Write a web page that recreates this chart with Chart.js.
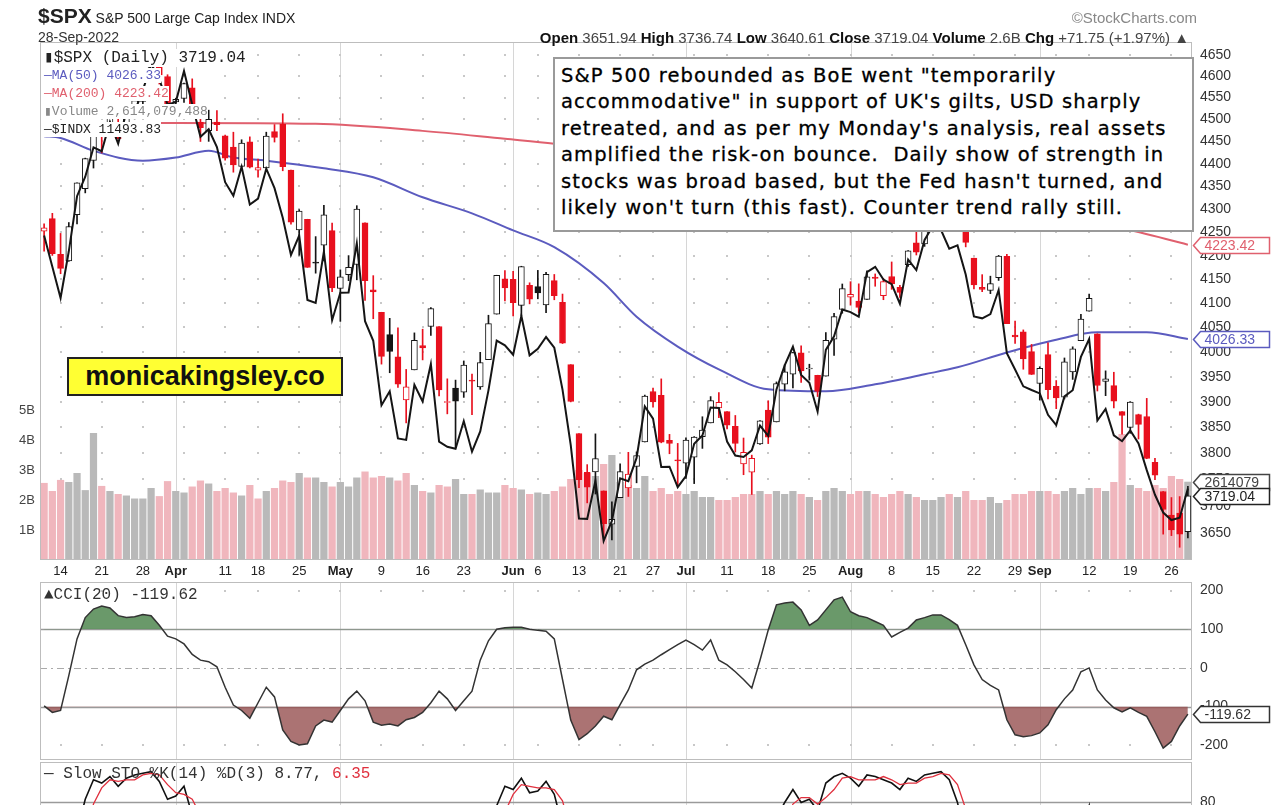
<!DOCTYPE html>
<html>
<head>
<meta charset="utf-8">
<script src="https://cdn.jsdelivr.net/npm/chart.js@4.4.1/dist/chart.umd.min.js"></script>
<style>
  body { margin: 0; width: 1280px; height: 805px; overflow: hidden; background: #fff; position: relative;
         font-family: "Liberation Sans", Arial, sans-serif; color: #222; }
  canvas { position: absolute; left: 0; }
  .abs { position: absolute; white-space: nowrap; }
  .mono { font-family: "Liberation Mono", "DejaVu Sans Mono", monospace; }
  .leg span { background: #fff; }
  #note { left: 553px; top: 57px; width: 627px; height: 163px; border: 2px solid #9a9a9a; background: #fff;
          padding: 4px 4px 4px 6px; font-family: "DejaVu Sans", sans-serif; font-size: 19.5px; letter-spacing: 1.1px;
          line-height: 26.4px; color: #000; -webkit-text-stroke: 0.3px #000; }
  #site { left: 67px; top: 357px; width: 272px; height: 35px; border: 2px solid #222; background: #ffff33;
          font-weight: bold; font-size: 27px; line-height: 35px; text-align: center; color: #111; }
</style>
</head>
<body>
<canvas id="priceChart" width="1280" height="582" style="top:0"></canvas>
<canvas id="cciChart" width="1280" height="178" style="top:582px"></canvas>
<canvas id="stoChart" width="1280" height="178" style="top:762px"></canvas>

<div class="abs" style="left:38px;top:4px;font-size:14px"><b style="font-size:21px">$SPX</b> S&amp;P 500 Large Cap Index INDX</div>
<div class="abs" style="left:38px;top:29px;font-size:14px;color:#333">28-Sep-2022</div>
<div class="abs" style="right:91px;top:29px;font-size:15px;color:#444">
  <b style="color:#111">Open</b> 3651.94 <b style="color:#111">High</b> 3736.74 <b style="color:#111">Low</b> 3640.61
  <b style="color:#111">Close</b> 3719.04 <b style="color:#111">Volume</b> 2.6B <b style="color:#111">Chg</b> +71.75 (+1.97%) &#9650;</div>
<div class="abs" style="right:83px;top:9px;font-size:15px;color:#888">&copy;StockCharts.com</div>

<div class="abs mono leg" style="left:44px;top:49px;line-height:18px">
  <div style="font-size:16px;color:#222"><span>&#9646;$SPX (Daily) 3719.04</span></div>
  <div style="font-size:13px;color:#5b5bbf"><span>&mdash;MA(50) 4026.33</span></div>
  <div style="font-size:13px;color:#e0606e"><span>&mdash;MA(200) 4223.42</span></div>
  <div style="font-size:13px;color:#888"><span>&#9646;Volume 2,614,079,488</span></div>
  <div style="font-size:13px;color:#222"><span>&mdash;$INDX 11493.83</span></div>
</div>

<div id="note" class="abs">S&amp;P 500 rebounded as BoE went "temporarily<br>accommodative" in support of UK's gilts, USD sharply<br>retreated, and as per my Monday's analysis, real assets<br>amplified the risk-on bounce.&nbsp; Daily show of strength in<br>stocks was broad based, but the Fed hasn't turned, and<br>likely won't turn (this fast). Counter trend rally still.</div>
<div id="site" class="abs">monicakingsley.co</div>

<div class="abs mono" style="left:44px;top:586px;font-size:16px;color:#333">&#9650;CCI(20) -119.62</div>
<div class="abs mono" style="left:44px;top:765px;font-size:16px;color:#333">&mdash; Slow STO %K(14) %D(3) 8.77, <span style="color:#e0303e">6.35</span></div>

<script>
// trading days shown on the chart
const dates = [
  '2022-03-10','2022-03-11','2022-03-14','2022-03-15','2022-03-16','2022-03-17','2022-03-18','2022-03-21','2022-03-22','2022-03-23','2022-03-24','2022-03-25','2022-03-28','2022-03-29','2022-03-30','2022-03-31',
  '2022-04-01','2022-04-04','2022-04-05','2022-04-06','2022-04-07','2022-04-08','2022-04-11','2022-04-12','2022-04-13','2022-04-14','2022-04-18','2022-04-19','2022-04-20','2022-04-21','2022-04-22','2022-04-25','2022-04-26','2022-04-27','2022-04-28','2022-04-29',
  '2022-05-02','2022-05-03','2022-05-04','2022-05-05','2022-05-06','2022-05-09','2022-05-10','2022-05-11','2022-05-12','2022-05-13','2022-05-16','2022-05-17','2022-05-18','2022-05-19','2022-05-20','2022-05-23','2022-05-24','2022-05-25','2022-05-26','2022-05-27','2022-05-31',
  '2022-06-01','2022-06-02','2022-06-03','2022-06-06','2022-06-07','2022-06-08','2022-06-09','2022-06-10','2022-06-13','2022-06-14','2022-06-15','2022-06-16','2022-06-17','2022-06-21','2022-06-22','2022-06-23','2022-06-24','2022-06-27','2022-06-28','2022-06-29','2022-06-30',
  '2022-07-01','2022-07-05','2022-07-06','2022-07-07','2022-07-08','2022-07-11','2022-07-12','2022-07-13','2022-07-14','2022-07-15','2022-07-18','2022-07-19','2022-07-20','2022-07-21','2022-07-22','2022-07-25','2022-07-26','2022-07-27','2022-07-28','2022-07-29',
  '2022-08-01','2022-08-02','2022-08-03','2022-08-04','2022-08-05','2022-08-08','2022-08-09','2022-08-10','2022-08-11','2022-08-12','2022-08-15','2022-08-16','2022-08-17','2022-08-18','2022-08-19','2022-08-22','2022-08-23','2022-08-24','2022-08-25','2022-08-26','2022-08-29','2022-08-30','2022-08-31',
  '2022-09-01','2022-09-02','2022-09-06','2022-09-07','2022-09-08','2022-09-09','2022-09-12','2022-09-13','2022-09-14','2022-09-15','2022-09-16','2022-09-19','2022-09-20','2022-09-21','2022-09-22','2022-09-23','2022-09-26','2022-09-27','2022-09-28'
];

const tickDates = ['2022-03-14','2022-03-21','2022-03-28','2022-04-01','2022-04-11','2022-04-18','2022-04-25','2022-05-02','2022-05-09','2022-05-16','2022-05-23',
  '2022-06-01','2022-06-06','2022-06-13','2022-06-21','2022-06-27','2022-07-01','2022-07-11','2022-07-18','2022-07-25','2022-08-01','2022-08-08','2022-08-15',
  '2022-08-22','2022-08-29','2022-09-01','2022-09-12','2022-09-19','2022-09-26'];
const tickTexts = ['14','21','28','Apr','11','18','25','May','9','16','23','Jun','6','13','21','27','Jul','11','18','25','Aug','8','15','22','29','Sep','12','19','26'];

const priceTicks = [3650,3700,3750,3800,3850,3900,3950,4000,4050,4100,4150,4200,4250,4300,4350,4400,4450,4500,4550,4600,4650];
const volumeTicks = [1,2,3,4,5];
const cciTicks = [200,100,0,-100,-200];

const priorClose = 4277.88;

const opens = [
  4252.55,4279.50,4202.75,4188.82,4288.14,4345.11,4407.34,4462.40,4469.10,4493.10,4469.98,4522.91,4541.09,4602.86,4624.20,4599.02,
  4540.32,4547.97,4572.45,4494.17,4474.65,4494.15,4462.64,4437.59,4394.30,4449.12,4385.63,4390.63,4472.26,4489.17,4385.83,4255.34,4278.14,4186.52,4222.58,4253.75,
  4130.61,4159.78,4181.18,4270.43,4128.17,4081.27,4035.18,3990.08,3903.95,3963.90,4013.02,4052.00,4051.98,3899.00,3927.76,3919.42,3942.94,3929.59,3984.60,4077.43,4151.09,
  4149.78,4095.41,4137.57,4134.72,4096.47,4147.12,4101.65,3974.39,3838.15,3763.52,3764.05,3728.18,3665.90,3715.31,3733.89,3774.71,3821.75,3920.76,3913.00,3825.09,3785.99,
  3781.00,3792.61,3831.98,3858.85,3888.26,3880.94,3851.95,3779.67,3763.99,3818.00,3883.79,3860.73,3935.32,3955.47,3998.43,3965.72,3953.22,3951.43,4026.13,4087.33,
  4112.38,4104.21,4107.96,4154.85,4115.87,4155.93,4133.11,4181.02,4227.40,4225.02,4269.37,4290.46,4280.40,4273.13,4266.31,4195.08,4133.09,4126.55,4153.26,4198.74,4034.58,4041.25,4000.67,
  3936.73,3994.66,3930.89,3909.43,3959.94,4022.94,4083.67,4037.12,3940.73,3932.41,3880.95,3849.91,3875.23,3871.40,3782.36,3727.14,3682.72,3686.44,3651.94
];
const highs = [
  4268.28,4291.01,4247.57,4271.05,4357.86,4412.67,4465.40,4481.75,4522.00,4501.07,4520.58,4546.03,4575.65,4637.30,4627.77,4603.07,
  4548.70,4583.50,4593.45,4503.94,4521.16,4520.41,4464.35,4471.00,4453.92,4460.46,4410.31,4471.03,4488.29,4512.94,4385.83,4299.02,4278.14,4240.71,4308.45,4269.68,
  4169.81,4200.10,4307.66,4270.43,4157.69,4081.27,4068.82,4049.09,3964.80,4038.88,4046.46,4090.72,4051.98,3945.96,3943.42,3981.88,3955.68,3999.33,4075.14,4158.49,4168.34,
  4166.54,4177.51,4142.67,4168.78,4164.86,4160.14,4119.10,3974.39,3838.15,3778.18,3837.48,3728.18,3707.71,3779.65,3801.79,3802.58,3913.65,3927.72,3945.86,3836.50,3818.99,
  3829.82,3832.19,3870.91,3910.63,3918.50,3880.94,3873.41,3829.44,3796.41,3863.62,3902.44,3939.81,3974.13,3999.29,4012.44,3975.30,3953.22,4039.56,4078.95,4140.15,
  4144.95,4140.47,4167.66,4161.29,4151.58,4186.62,4137.30,4211.03,4257.91,4280.47,4301.79,4325.28,4302.18,4292.53,4266.31,4195.08,4159.77,4156.56,4200.54,4203.04,4062.99,4044.98,4015.37,
  3970.23,4018.43,3942.55,3987.89,4010.50,4076.81,4119.28,4037.12,3961.94,3959.14,3880.95,3900.45,3876.01,3907.07,3790.17,3727.14,3715.67,3717.53,3736.74
];
const lows = [
  4209.80,4200.49,4161.72,4187.90,4267.89,4335.65,4390.57,4424.30,4469.10,4455.81,4465.17,4501.07,4517.69,4589.66,4581.32,4530.41,
  4507.57,4539.21,4514.17,4450.04,4450.30,4474.60,4408.38,4381.34,4392.70,4390.77,4370.30,4390.63,4448.76,4384.47,4267.62,4200.82,4175.04,4162.90,4188.63,4124.28,
  4062.51,4147.08,4148.91,4106.01,4067.91,3975.48,3958.17,3928.82,3858.87,3963.90,3983.99,4033.93,3911.91,3876.58,3810.32,3909.04,3875.13,3925.03,3984.60,4077.43,4104.88,
  4073.85,4074.37,4098.67,4109.18,4080.19,4107.20,4017.17,3900.16,3734.30,3705.68,3722.30,3639.77,3636.87,3715.31,3717.69,3743.52,3821.75,3889.66,3820.14,3799.02,3738.67,
  3752.10,3742.06,3809.37,3858.85,3869.34,3847.22,3802.36,3758.89,3721.56,3817.18,3818.63,3860.73,3922.03,3927.64,3938.85,3943.46,3910.74,3951.43,3992.97,4079.22,
  4096.02,4079.81,4107.96,4135.42,4107.31,4128.97,4112.09,4177.26,4201.41,4219.78,4256.90,4277.77,4253.08,4261.98,4218.70,4129.86,4124.03,4119.97,4147.59,4057.66,4017.42,3965.21,3954.53,
  3903.65,3906.21,3886.75,3906.03,3944.81,4022.94,4083.67,3921.73,3912.49,3888.28,3837.08,3838.50,3827.54,3789.49,3749.45,3647.47,3644.76,3623.29,3640.61
];
const closes = [
  4259.52,4204.31,4173.11,4262.45,4357.86,4411.67,4463.12,4461.18,4511.61,4456.24,4520.16,4543.06,4575.52,4631.60,4602.45,4530.41,
  4545.86,4582.64,4525.12,4481.15,4500.21,4488.28,4412.53,4397.45,4446.59,4392.59,4391.69,4462.21,4459.45,4393.66,4271.78,4296.12,4175.20,4183.96,4287.50,4131.93,
  4155.38,4175.48,4300.17,4146.87,4123.34,3991.24,4001.05,3935.18,3930.08,4023.89,4008.01,4088.85,3923.68,3900.79,3901.36,3973.75,3941.48,3978.73,4057.84,4158.24,4132.15,
  4101.23,4176.82,4108.54,4121.43,4160.68,4115.77,4017.82,3900.86,3749.63,3735.48,3789.99,3666.77,3674.84,3764.79,3759.89,3795.73,3911.74,3900.11,3821.55,3818.83,3785.38,
  3825.33,3831.39,3845.08,3902.62,3899.38,3854.43,3818.80,3801.78,3790.38,3863.16,3830.85,3936.69,3959.90,3998.95,3961.63,3966.84,3921.05,4023.61,4072.43,4130.29,
  4118.63,4091.19,4155.17,4151.94,4145.19,4140.06,4122.47,4210.24,4207.27,4280.15,4297.14,4305.20,4274.04,4283.74,4228.48,4137.99,4128.73,4140.77,4199.12,4057.66,4030.61,3986.16,3955.00,
  3966.85,3924.26,3908.19,3979.87,4006.18,4067.36,4110.41,3932.69,3946.01,3901.35,3873.33,3899.89,3855.93,3789.93,3757.99,3693.23,3655.04,3647.29,3719.04
];

// volume in billions
const volumes = [
  2.57,2.30,2.67,2.60,2.90,2.33,4.23,2.47,2.30,2.20,2.15,2.05,2.05,2.40,2.13,2.63,
  2.30,2.25,2.45,2.65,2.55,2.30,2.40,2.25,2.15,2.50,2.05,2.30,2.40,2.65,2.60,2.90,2.75,2.75,2.60,2.45,
  2.60,2.45,2.75,2.95,2.75,2.80,2.75,2.65,2.90,2.50,2.30,2.25,2.50,2.45,2.70,2.20,2.20,2.35,2.25,2.25,2.50,
  2.40,2.35,2.20,2.25,2.20,2.30,2.45,2.70,3.00,2.90,2.80,3.20,3.50,2.60,2.50,2.40,2.80,2.30,2.40,2.20,2.30,
  2.20,2.30,2.10,2.10,2.00,2.00,2.10,2.20,2.20,2.30,2.20,2.30,2.20,2.30,2.20,2.10,2.00,2.30,2.40,2.30,
  2.20,2.30,2.30,2.20,2.10,2.20,2.30,2.20,2.10,2.00,2.00,2.10,2.20,2.10,2.30,2.00,2.00,2.10,1.90,2.00,2.20,2.20,2.30,
  2.30,2.30,2.20,2.30,2.40,2.20,2.40,2.40,2.30,2.60,4.20,2.50,2.40,2.30,2.50,2.40,2.80,2.70,2.61
];

// $INDX overlay closes
const indx = [
  13600,13320,13046,13458,13960,14143,14421,14384,14667,14457,14767,14768,14979,15241,15092,14838,
  14862,15172,14838,14523,14596,14424,14091,13964,14236,13882,13938,14218,14035,13762,13426,13600,13029,13003,13455,12855,
  13093,13094,13529,12847,12680,12149,12262,11883,11871,12314,12179,12486,11857,11817,11801,12021,11779,11938,12269,12682,12642,
  12563,12893,12558,12612,12712,12622,12275,11831,11267,11264,11553,11100,11248,11572,11550,11730,12139,12040,11660,11662,11504,
  11589,11841,11906,12130,12126,11858,11748,11737,11789,11985,11903,12276,12474,12630,12396,12331,12096,12604,12718,12947,
  12925,12886,13273,13320,13207,13167,12997,13384,13291,13560,13686,13649,13482,13511,13251,12887,12871,12908,13116,12577,12441,12302,12272,
  12244,12071,11989,12220,12270,12545,12695,12025,12118,11908,11861,11946,11843,11635,11446,11311,11255,11272,11493.83
];

// moving averages at a few dates
const ma50Dates = ['2022-03-10','2022-03-14','2022-03-18','2022-03-28','2022-04-01','2022-04-07','2022-04-12','2022-04-19','2022-04-28','2022-05-06',
  '2022-05-16','2022-05-24','2022-06-01','2022-06-08','2022-06-16','2022-06-23','2022-06-30','2022-07-08','2022-07-18','2022-07-27','2022-08-04',
  '2022-08-12','2022-08-18','2022-08-26','2022-09-06','2022-09-13','2022-09-21','2022-09-28'];
const ma50Values = [4462,4458,4429,4407,4414,4429,4414,4407,4390,4370,4326,4291,4254,4218,4142,4072,4011,3965,3925,3921,3935,3955,3969,3999,4025,4040,4040,4026.33];
const ma200Dates = ['2022-03-10','2022-04-01','2022-04-27','2022-05-16','2022-05-31','2022-06-08','2022-07-06','2022-08-03','2022-08-29','2022-09-16','2022-09-28'];
const ma200Values = [4492,4492,4490,4474,4456,4445,4405,4345,4290,4258,4223.42];

const cci = [
  -98,-115,-110,-20,75,130,152,160,155,135,130,132,138,135,110,82,
  75,62,35,20,16,3,-50,-96,-110,-130,-90,-50,-75,-160,-190,-199,-196,-150,-135,-140,
  -110,-80,-60,-85,-140,-148,-145,-150,-134,-128,-115,-90,-60,-80,-110,-85,-60,20,70,100,104,
  105,105,100,97,95,75,-30,-135,-185,-170,-150,-125,-134,-95,-57,-5,10,20,34,47,60,
  72,60,46,72,20,8,-10,-30,-52,20,98,163,168,170,150,110,124,150,176,183,
  145,135,130,120,110,80,92,103,124,130,137,137,125,110,60,8,-30,-45,-57,-134,-173,-178,-175,
  -168,-147,-108,-80,-57,-10,0,-57,-83,-103,-114,-103,-115,-125,-165,-207,-190,-150,-119.62
];

const stoK = [
  35,20,8,30,62,82,94,92,96,90,95,97,98,99,93,82,
  84,90,72,55,62,55,35,30,28,25,45,44,30,15,22,10,12,30,10,8,
  15,20,40,12,8,5,10,6,10,25,30,45,15,10,10,25,18,30,55,78,90,
  88,95,86,87,93,85,65,35,8,4,6,3,5,15,18,20,35,40,30,28,22,
  30,35,45,60,62,50,40,35,30,50,45,70,80,88,80,82,75,92,96,98,
  95,90,97,96,94,92,88,95,93,97,98,99,94,80,55,35,30,33,45,15,8,5,4,
  10,6,4,25,40,62,78,25,30,18,15,25,22,10,6,3,8,5,8.77
];
const stoD = [
  40,30,21,19,33,58,79,89,94,93,94,94,97,98,97,91,
  86,85,82,72,63,57,51,40,31,28,33,38,40,30,22,16,15,17,17,16,
  11,14,25,24,20,8,8,7,9,14,22,33,30,23,12,15,18,24,34,54,74,
  85,91,90,89,89,88,81,62,36,16,6,4,5,8,13,18,24,32,35,33,27,
  27,29,37,47,56,57,51,42,35,38,42,55,65,79,83,83,79,83,88,95,
  96,94,94,94,96,94,91,92,92,95,96,98,97,91,76,57,40,33,36,31,23,9,6,
  6,7,7,13,23,42,60,55,44,24,21,19,21,19,13,6,6,5,6.35
];

// ---- derived helpers for styling / layout ----
const RED = '#e8101e';
const BLACK = '#151515';
const dayOf = d => new Date(d + 'T00:00:00Z').getUTCDay();
const weekStarts = dates.map((d, i) => i > 0 && dayOf(d) < dayOf(dates[i - 1]) ? i : -1).filter(i => i >= 0);
const monthStarts = dates.map((d, i) => i > 0 && d.slice(5, 7) !== dates[i - 1].slice(5, 7) ? i : -1).filter(i => i >= 0);
const tickIndex = tickDates.map(d => dates.indexOf(d));

const candleColors = closes.map((c, i) => c < (i ? closes[i - 1] : priorClose) ? RED : BLACK);
const bodyFills = closes.map((c, i) => c < opens[i] ? candleColors[i] : '#ffffff');
const volColors = candleColors.map(c => c === RED ? '#f0b6bd' : '#b9b9b9');

// fixed axis width, and no extra padding for the end labels
const fixWidth = w => s => { s.width = w; s.paddingTop = 0; s.paddingBottom = 0; };

const panelGrid = {
  id: 'panelGrid',
  beforeDatasetsDraw(chart, args, opts) {
    const { ctx, chartArea: a, scales } = chart;
    const xs = scales.x;
    ctx.save();
    ctx.strokeStyle = '#d6d6d6';
    ctx.lineWidth = 1;
    monthStarts.forEach(i => {
      const px = Math.round(xs.getPixelForValue(i)) + 0.5;
      ctx.beginPath(); ctx.moveTo(px, a.top); ctx.lineTo(px, a.bottom); ctx.stroke();
    });
    const ys = scales[opts.axis];
    ctx.fillStyle = '#c8c8c8';
    (opts.dots || []).forEach(v => {
      const py = Math.round(ys.getPixelForValue(v));
      weekStarts.forEach(i => {
        const px = Math.round(xs.getPixelForValue(i));
        ctx.fillRect(px - 1, py - 1, 2, 2);
      });
    });
    (opts.refs || []).forEach(r => {
      const py = Math.round(ys.getPixelForValue(r.value)) + 0.5;
      ctx.strokeStyle = r.color;
      ctx.lineWidth = r.width || 1;
      ctx.setLineDash(r.dash || []);
      ctx.beginPath(); ctx.moveTo(a.left, py); ctx.lineTo(a.right, py); ctx.stroke();
    });
    ctx.restore();
  },
  afterDraw(chart) {
    const { ctx, chartArea: a } = chart;
    ctx.save();
    ctx.strokeStyle = '#bdbdbd';
    ctx.lineWidth = 1;
    ctx.strokeRect(a.left + 0.5, a.top + 0.5, a.right - a.left - 1, a.bottom - a.top - 1);
    ctx.restore();
  }
};

const valueTags = {
  id: 'valueTags',
  afterDraw(chart, args, opts) {
    const { ctx, chartArea: a } = chart;
    (opts.tags || []).forEach(t => {
      const y = Math.round(chart.scales[t.axis].getPixelForValue(t.value)) + 0.5;
      const x = a.right + 1.5;
      ctx.save();
      ctx.beginPath();
      ctx.moveTo(x, y);
      ctx.lineTo(x + 7, y - 8);
      ctx.lineTo(x + 76, y - 8);
      ctx.lineTo(x + 76, y + 8);
      ctx.lineTo(x + 7, y + 8);
      ctx.closePath();
      ctx.fillStyle = '#fff';
      ctx.fill();
      ctx.lineWidth = 1.5;
      ctx.strokeStyle = t.color;
      ctx.stroke();
      ctx.fillStyle = t.color;
      ctx.font = '14px "Liberation Sans"';
      ctx.textBaseline = 'middle';
      ctx.fillText(t.text, x + 11, y + 1);
      ctx.restore();
    });
  }
};

Chart.register(panelGrid, valueTags);
Chart.defaults.font.family = '"Liberation Sans", Arial, sans-serif';
Chart.defaults.color = '#333';

const common = {
  responsive: false,
  animation: false,
  devicePixelRatio: 1,
  events: []
};

// ---- price panel ----
new Chart(document.getElementById('priceChart'), {
  data: {
    labels: dates,
    datasets: [
      {
        type: 'bar', label: 'Volume', yAxisID: 'yv', data: volumes,
        backgroundColor: volColors, barPercentage: 0.88, categoryPercentage: 1, grouped: false, order: 6
      },
      {
        type: 'line', label: 'MA(200)', yAxisID: 'y',
        data: ma200Dates.map((d, i) => ({ x: d, y: ma200Values[i] })),
        borderColor: '#e0606e', borderWidth: 2, pointRadius: 0, cubicInterpolationMode: 'monotone', order: 5
      },
      {
        type: 'line', label: 'MA(50)', yAxisID: 'y',
        data: ma50Dates.map((d, i) => ({ x: d, y: ma50Values[i] })),
        borderColor: '#5b5bbf', borderWidth: 2, pointRadius: 0, cubicInterpolationMode: 'monotone', order: 5
      },
      {
        type: 'bar', label: 'wick', yAxisID: 'y', data: lows.map((l, i) => [l, highs[i]]),
        backgroundColor: candleColors, barThickness: 1, grouped: false, order: 4
      },
      {
        type: 'bar', label: '$SPX', yAxisID: 'y', data: opens.map((o, i) => [o, closes[i]]),
        backgroundColor: bodyFills, borderColor: candleColors, borderWidth: 1, borderSkipped: false,
        barThickness: 6, minBarLength: 1, grouped: false, order: 3
      },
      {
        type: 'line', label: '$INDX', yAxisID: 'yn', data: indx,
        borderColor: BLACK, borderWidth: 2, pointRadius: 0, tension: 0, order: 1
      }
    ]
  },
  options: {
    ...common,
    layout: { padding: { top: 42, left: 0, right: 0, bottom: 0 } },
    plugins: {
      legend: { display: false },
      tooltip: { enabled: false },
      panelGrid: { axis: 'y', dots: priceTicks },
      valueTags: {
        tags: [
          { axis: 'y', value: ma200Values[ma200Values.length - 1], text: '4223.42', color: '#e0606e' },
          { axis: 'y', value: ma50Values[ma50Values.length - 1], text: '4026.33', color: '#5b5bbf' },
          { axis: 'yv', value: volumes[volumes.length - 1], text: '2614079', color: '#444' },
          { axis: 'y', value: closes[closes.length - 1], text: '3719.04', color: '#222' }
        ]
      }
    },
    scales: {
      x: {
        type: 'category', offset: true,
        grid: { display: false, drawTicks: false }, border: { display: false },
        afterFit: s => { s.height = 22; },
        afterBuildTicks: s => { s.ticks = tickIndex.map(v => ({ value: v })); },
        ticks: {
          autoSkip: false, maxRotation: 0, padding: 4, color: '#222',
          callback: v => tickTexts[tickIndex.indexOf(v)],
          font: c => ({ size: 13, weight: /[A-Za-z]/.test(tickTexts[c.index] || '') ? 'bold' : 'normal' })
        }
      },
      y: {
        type: 'logarithmic', position: 'right', min: 3600, max: 4680,
        grid: { display: false, drawTicks: false }, border: { display: false },
        afterFit: fixWidth(88),
        afterBuildTicks: s => { s.ticks = priceTicks.map(v => ({ value: v })); },
        ticks: { padding: 8, font: { size: 14 }, color: '#333', callback: v => String(v) }
      },
      yv: {
        type: 'linear', position: 'left', min: 0, max: 17.27,
        grid: { display: false, drawTicks: false }, border: { display: false },
        afterFit: fixWidth(40),
        afterBuildTicks: s => { s.ticks = volumeTicks.map(v => ({ value: v })); },
        ticks: { padding: 5, font: { size: 13 }, color: '#444', callback: v => v + 'B' }
      },
      yn: { type: 'logarithmic', display: false, min: 10960, max: 15468 }
    }
  }
});

// ---- CCI panel ----
new Chart(document.getElementById('cciChart'), {
  type: 'line',
  data: {
    labels: dates,
    datasets: [
      {
        data: cci, borderColor: '#333', borderWidth: 1.5, pointRadius: 0, tension: 0,
        fill: { target: { value: 100 }, above: 'rgba(80,135,80,0.85)', below: 'rgba(0,0,0,0)' }
      },
      {
        data: cci, borderWidth: 0, pointRadius: 0, tension: 0,
        fill: { target: { value: -100 }, above: 'rgba(0,0,0,0)', below: 'rgba(150,80,80,0.8)' }
      }
    ]
  },
  options: {
    ...common,
    layout: { padding: { left: 40, top: 0, bottom: 0, right: 0 } },
    plugins: {
      legend: { display: false },
      tooltip: { enabled: false },
      panelGrid: {
        axis: 'y', dots: [200, -200],
        refs: [
          { value: 100, color: '#9a9a9a', width: 1.5 },
          { value: -100, color: '#9a9a9a', width: 1.5 },
          { value: 0, color: '#aaaaaa', dash: [7, 4, 2, 4] }
        ]
      },
      valueTags: { tags: [{ axis: 'y', value: cci[cci.length - 1], text: '-119.62', color: '#333' }] }
    },
    scales: {
      x: { type: 'category', offset: true, display: false },
      y: {
        position: 'right', min: -238, max: 222,
        grid: { display: false, drawTicks: false }, border: { display: false },
        afterFit: fixWidth(88),
        afterBuildTicks: s => { s.ticks = cciTicks.map(v => ({ value: v })); },
        ticks: { padding: 8, font: { size: 14 }, color: '#333' }
      }
    }
  }
});

// ---- Slow stochastic panel (mostly below the fold) ----
new Chart(document.getElementById('stoChart'), {
  type: 'line',
  data: {
    labels: dates,
    datasets: [
      { data: stoD, borderColor: '#e0303e', borderWidth: 1.3, pointRadius: 0, tension: 0 },
      { data: stoK, borderColor: '#111', borderWidth: 1.6, pointRadius: 0, tension: 0 }
    ]
  },
  options: {
    ...common,
    layout: { padding: { left: 40, top: 0, bottom: 0, right: 0 } },
    plugins: {
      legend: { display: false },
      tooltip: { enabled: false },
      panelGrid: { axis: 'y', dots: [], refs: [{ value: 80, color: '#9a9a9a', width: 1.5 }, { value: 20, color: '#9a9a9a', width: 1.5 }] }
    },
    scales: {
      x: { type: 'category', offset: true, display: false },
      y: {
        position: 'right', min: -5, max: 105,
        grid: { display: false, drawTicks: false }, border: { display: false },
        afterFit: fixWidth(88),
        afterBuildTicks: s => { s.ticks = [80, 20].map(v => ({ value: v })); },
        ticks: { padding: 8, font: { size: 14 }, color: '#333' }
      }
    }
  }
});
</script>
</body>
</html>
